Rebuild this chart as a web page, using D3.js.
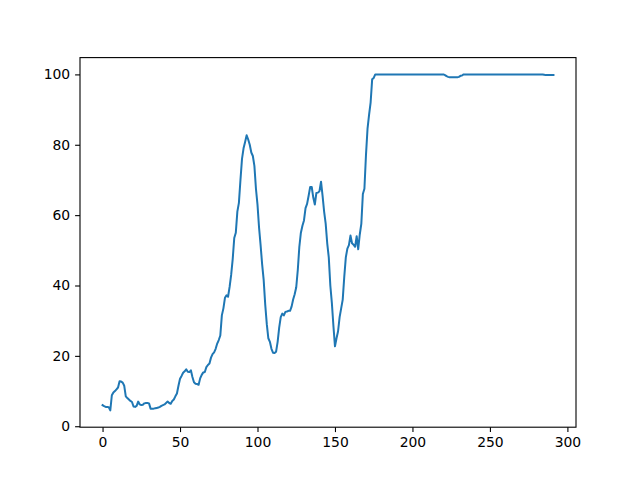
<!DOCTYPE html>
<html>
<head>
<meta charset="utf-8">
<script src="https://cdn.jsdelivr.net/npm/d3@7"></script>
<style>
  body { margin: 0; background: #fff; }
  svg { display: block; }
  .tick text { font-family: "DejaVu Sans", sans-serif; font-size: 13.9px; fill: #000; }
  .tick line, .domain { stroke: #000; stroke-width: 1.1px; }
</style>
</head>
<body>
<div class="canvas"></div>
<script>
// values, one per step (x = 0..291)
var values = [
  6.0,5.7,5.5,5.5,5.4,4.5,8.8,9.6,10.0,10.5,
  11.0,12.8,12.7,12.4,11.5,8.5,8.0,7.6,7.2,6.9,
  5.6,5.5,5.8,7.0,6.2,6.0,6.1,6.5,6.6,6.6,
  6.5,5.0,5.0,5.0,5.1,5.2,5.3,5.5,5.8,6.0,
  6.2,6.6,7.0,6.6,6.4,7.2,7.6,8.5,9.3,11.5,
  13.5,14.3,15.2,15.6,16.2,15.5,15.4,15.9,14.0,12.5,
  12.1,12.0,11.8,13.6,14.6,15.3,15.4,16.8,17.4,17.8,
  19.5,20.5,21.0,22.0,23.5,24.5,25.8,31.5,33.5,36.5,
  37.2,36.8,39.6,43.0,47.5,53.5,55.0,61.0,63.5,70.0,
  76.0,79.0,80.8,82.7,81.5,80.0,77.8,76.8,74.0,67.5,
  63.0,56.5,51.5,46.0,41.5,34.5,29.0,25.0,24.0,22.0,
  20.9,20.8,21.2,24.0,28.0,31.0,32.0,31.5,32.5,32.6,
  32.8,32.8,34.0,36.0,37.5,39.5,44.4,51.0,55.0,57.0,
  58.5,62.0,63.2,65.5,68.0,68.0,65.0,63.0,66.3,66.4,
  66.8,69.5,65.5,61.0,57.6,52.0,48.0,40.0,35.0,28.5,
  22.7,25.0,27.0,31.0,33.5,36.0,42.5,48.0,50.5,51.5,
  54.2,52.0,51.6,51.0,54.0,50.3,54.5,57.5,66.0,67.5,
  77.0,84.5,88.5,92.0,98.6,99.0,100,100,100,100,
  100,100,100,100,100,100,100,100,100,100,
  100,100,100,100,100,100,100,100,100,100,
  100,100,100,100,100,100,100,100,100,100,
  100,100,100,100,100,100,100,100,100,100,
  100,99.8,99.5,99.3,99.2,99.2,99.2,99.2,99.2,99.2,
  99.3,99.6,99.7,100,100,100,100,100,100,100,
  100,100,100,100,100,100,100,100,100,100,
  100,100,100,100,100,100,100,100,100,100,
  100,100,100,100,100,100,100,100,100,100,
  100,100,100,100,100,100,100,100,100,100,
  100,100,100,100,100,99.9,99.8,99.8,99.8,99.8,
  99.8,99.8
];
var xTicks = [0, 50, 100, 150, 200, 250, 300];
var yTicks = [0, 20, 40, 60, 80, 100];

var width = 640, height = 480;
// plot area (matplotlib default subplot box)
var plotLeft = 80, plotRight = 576, plotTop = 57.6, plotBottom = 427.2;

var svg = d3.select(".canvas").append("svg")
    .attr("width", width)
    .attr("height", height);

// matplotlib style 5% margins
var xmin = 0, xmax = values.length - 1;
var ymin = d3.min(values), ymax = d3.max(values);
var xpad = (xmax - xmin) * 0.05, ypad = (ymax - ymin) * 0.05;

var x = d3.scaleLinear().domain([xmin - xpad, xmax + xpad]).range([plotLeft, plotRight]);
var y = d3.scaleLinear().domain([ymin - ypad, ymax + ypad]).range([plotBottom, plotTop]);

var line = d3.line()
    .x(function(d, i) { return x(i); })
    .y(function(d) { return y(d); });

svg.append("path")
    .datum(values)
    .attr("d", line)
    .attr("fill", "none")
    .attr("stroke", "#1f77b4")
    .attr("stroke-width", 2)
    .attr("stroke-linejoin", "round")
    .attr("stroke-linecap", "square");

// axes
var gx = svg.append("g")
    .attr("transform", "translate(0," + plotBottom + ")")
    .call(d3.axisBottom(x).tickValues(xTicks).tickSize(4.9).tickPadding(4.9).tickSizeOuter(0));
var gy = svg.append("g")
    .attr("transform", "translate(" + plotLeft + ",0)")
    .call(d3.axisLeft(y).tickValues(yTicks).tickSize(4.9).tickPadding(4.9).tickSizeOuter(0));
gx.select(".domain").remove();
gy.select(".domain").remove();
gx.selectAll("text").attr("dy", "0.72em");

// frame
svg.append("rect")
    .attr("x", plotLeft).attr("y", plotTop)
    .attr("width", plotRight - plotLeft).attr("height", plotBottom - plotTop)
    .attr("fill", "none")
    .attr("stroke", "#000")
    .attr("stroke-width", 1.1);
</script>
</body>
</html>
